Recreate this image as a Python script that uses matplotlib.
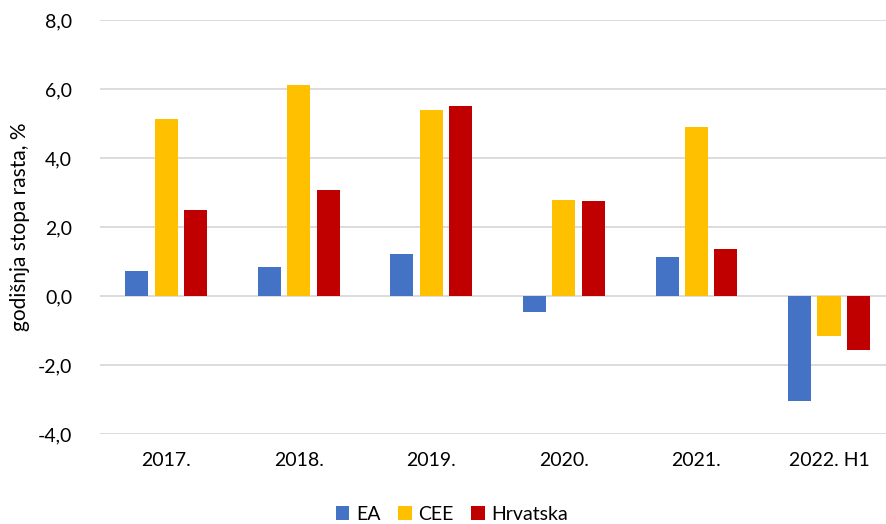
import numpy as np
import matplotlib
matplotlib.use("Agg")
from matplotlib import pyplot as plt

plt.rcParams['font.family'] = ['Lato', 'DejaVu Sans']

categories = ['2017.', '2018.', '2019.', '2020.', '2021.', '2022. H1']
ea = [0.72, 0.84, 1.22, -0.47, 1.13, -3.05]
cee = [5.12, 6.13, 5.38, 2.78, 4.90, -1.17]
hrvatska = [2.50, 3.06, 5.52, 2.74, 1.35, -1.56]
series_names = ['EA', 'CEE', 'Hrvatska']
colors = ['#4472C4', '#FFC000', '#C00000']

fig = plt.figure(figsize=(8.86, 5.24), dpi=100)
ax = fig.add_axes([100 / 886, 90 / 524, 786 / 886, 414 / 524])

x = np.arange(len(categories))
w = 0.174
step = 0.222
for i, (vals, name, c) in enumerate(zip([ea, cee, hrvatska], series_names, colors)):
    ax.bar(x + (i - 1) * step, vals, width=w, color=c, label=name, zorder=3)

ax.set_ylim(-4, 8)
ax.set_xlim(-0.5, 5.43)
ax.set_yticks(np.arange(-4, 8.1, 2))
ax.set_yticklabels([f"{v:.1f}".replace('.', ',') for v in np.arange(-4, 8.1, 2)])
ax.set_xticks(x)
ax.set_xticklabels(categories)
ax.yaxis.grid(True, color='#D9D9D9', linewidth=1.3, zorder=0)
for s in ax.spines.values():
    s.set_visible(False)
ax.tick_params(axis='both', length=0, labelsize=14, colors='black')
ax.tick_params(axis='y', pad=20)
ax.tick_params(axis='x', pad=13)
ax.set_ylabel('godišnja stopa rasta, %', fontsize=15, labelpad=6)

fig.legend(loc='center', bbox_to_anchor=(452 / 886, 1 - 514 / 524), ncol=3, frameon=False,
           fontsize=14, handlelength=0.7, handleheight=0.7, handletextpad=0.35,
           columnspacing=0.9)

plt.savefig('out.png', dpi=100)
